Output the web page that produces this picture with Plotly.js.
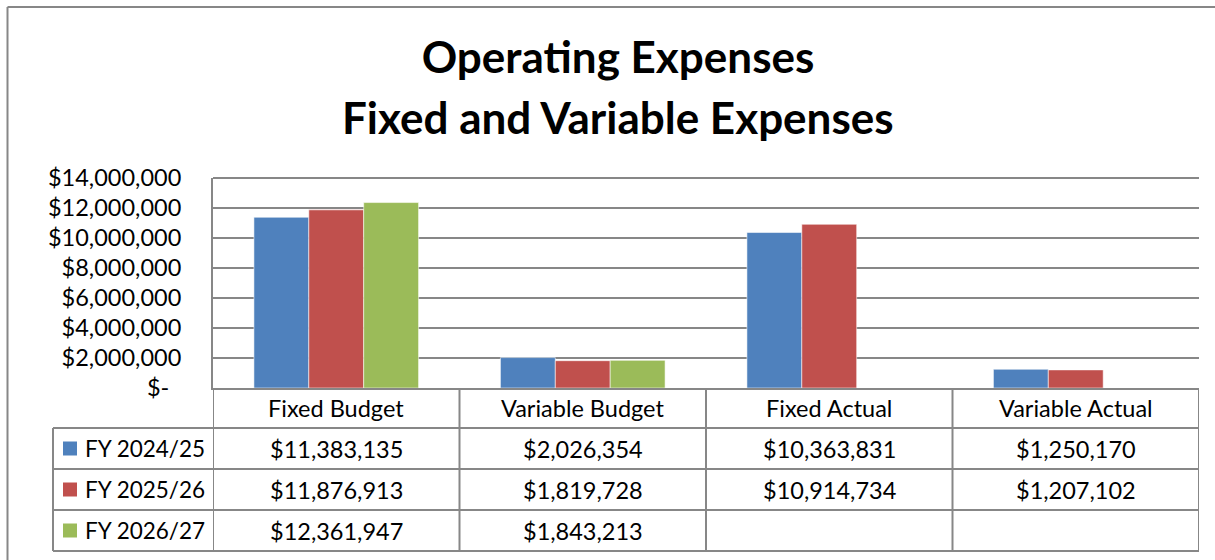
<!DOCTYPE html>
<html>
<head>
<meta charset="utf-8">
<script src="https://cdn.plot.ly/plotly-3.0.1.min.js"></script>
<style>html,body{margin:0;padding:0;background:#fff;}#chart{width:1215px;height:560px;}</style>
</head>
<body>
<div id="chart"></div>
<script>
// ---- data ----
var categories = ["Fixed Budget", "Variable Budget", "Fixed Actual", "Variable Actual"];
var seriesNames = ["FY 2024/25", "FY 2025/26", "FY 2026/27"];
var fy2425 = [11383135, 2026354, 10363831, 1250170];
var fy2526 = [11876913, 1819728, 10914734, 1207102];
var fy2627 = [12361947, 1843213, null, null];
var yTickVals = [0, 2000000, 4000000, 6000000, 8000000, 10000000, 12000000, 14000000];
var titleLine1 = "Operating Expenses";
var titleLine2 = "Fixed and Variable Expenses";

var seriesValues = [fy2425, fy2526, fy2627];
var colors = ["#4F81BD", "#C0504D", "#9BBB59"];

// ---- geometry helpers (plot area: x 213..1199, y 178..388) ----
var W = 1215, H = 560;
var L = 213, R = 1199, T = 178, B = 388;
function px2x(px) { return (px - L) / (R - L); }
function py2y(py) { return (B - py) / (B - T); }

function money(v) {
  if (v === 0) return "$-\u00a0\u00a0";
  return "$" + v.toLocaleString("en-US");
}

var FONT = "Lato, 'Open Sans', sans-serif";
var GRID = "#878787";
var TXT = 23.5;

var traces = seriesNames.map(function (name, i) {
  return {
    type: "bar",
    name: name,
    x: categories,
    y: seriesValues[i],
    marker: { color: colors[i], line: { color: "rgba(255,255,255,0.55)", width: 1 } },
    showlegend: false,
    hoverinfo: "x+y+name"
  };
});

var shapes = [];
var annotations = [];
var rowLines = [428, 469, 510, 551];
var rowCenters = [448.5, 489.5, 530.5];

// outer chart border (left and top)
shapes.push({ type: "line", xref: "paper", yref: "paper", x0: px2x(7.5), x1: px2x(W + 5), y0: py2y(7), y1: py2y(7), line: { color: "#878787", width: 2 } });
shapes.push({ type: "line", xref: "paper", yref: "paper", x0: px2x(7.5), x1: px2x(7.5), y0: py2y(7), y1: py2y(H + 5), line: { color: "#878787", width: 2 } });

// top gridline of plot area
shapes.push({ type: "line", xref: "paper", yref: "paper", x0: 0, x1: 1, y0: 1, y1: 1, line: { color: GRID, width: 2 } });

// data table horizontal lines
rowLines.forEach(function (py) {
  shapes.push({ type: "line", xref: "paper", yref: "paper", x0: px2x(53), x1: 1, y0: py2y(py), y1: py2y(py), line: { color: GRID, width: 2 } });
});
// data table vertical lines (category boundaries)
for (var k = 0; k <= categories.length; k++) {
  shapes.push({ type: "line", xref: "x", yref: "paper", x0: k - 0.5, x1: k - 0.5, y0: 0, y1: py2y(551), line: { color: GRID, width: 2 } });
}
// legend column left border
shapes.push({ type: "line", xref: "paper", yref: "paper", x0: px2x(53), x1: px2x(53), y0: py2y(428), y1: py2y(551), line: { color: GRID, width: 2 } });

// legend keys and labels, values
seriesNames.forEach(function (name, i) {
  var cy = rowCenters[i];
  shapes.push({ type: "rect", xref: "paper", yref: "paper", x0: px2x(63), x1: px2x(77), y0: py2y(cy - 7), y1: py2y(cy + 7), fillcolor: colors[i], line: { width: 0 } });
  annotations.push({ xref: "paper", yref: "paper", x: px2x(83), y: py2y(cy), xanchor: "left", yanchor: "middle", text: name, showarrow: false, font: { family: FONT, size: 22.5, color: "#000" } });
  categories.forEach(function (c, j) {
    var v = seriesValues[i][j];
    if (v === null || v === undefined) return;
    annotations.push({ xref: "x", yref: "paper", x: c, y: py2y(cy), xanchor: "center", yanchor: "middle", text: money(v), showarrow: false, font: { family: FONT, size: TXT, color: "#000" } });
  });
});

// header row (category names)
categories.forEach(function (c) {
  annotations.push({ xref: "x", yref: "paper", x: c, y: py2y(408), xanchor: "center", yanchor: "middle", text: c, showarrow: false, font: { family: FONT, size: TXT, color: "#000" } });
});

// second title line
annotations.push({ xref: "paper", yref: "paper", x: px2x(618), y: py2y(117), xanchor: "center", yanchor: "middle", text: "<b>" + titleLine2 + "</b>", showarrow: false, font: { family: FONT, size: 44, color: "#000" } });

var layout = {
  width: W, height: H,
  paper_bgcolor: "#fff", plot_bgcolor: "#fff",
  margin: { l: L, r: W - R, t: T, b: H - B, pad: 0 },
  title: { text: "<b>" + titleLine1 + "</b>", x: 618 / W, xanchor: "center", xref: "container", y: 1 - 58 / H, yanchor: "middle", yref: "container", font: { family: FONT, size: 44, color: "#000" } },
  barmode: "group",
  bargap: 0.332,
  bargroupgap: 0,
  xaxis: { type: "category", range: [-0.5, 3.5], showticklabels: false, ticks: "", showgrid: false, showline: true, linecolor: GRID, linewidth: 2, zeroline: false, fixedrange: true },
  yaxis: {
    range: [0, 14000000], tickvals: yTickVals, ticktext: yTickVals.map(money),
    ticks: "", ticklabelstandoff: 25,
    showgrid: true, gridcolor: GRID, gridwidth: 2,
    showline: true, linecolor: GRID, linewidth: 2, zeroline: false,
    tickfont: { family: FONT, size: TXT, color: "#000" }, fixedrange: true
  },
  shapes: shapes,
  annotations: annotations,
  font: { family: FONT, color: "#000" }
};

Plotly.newPlot("chart", traces, layout, { displayModeBar: false, staticPlot: false });
</script>
</body>
</html>
